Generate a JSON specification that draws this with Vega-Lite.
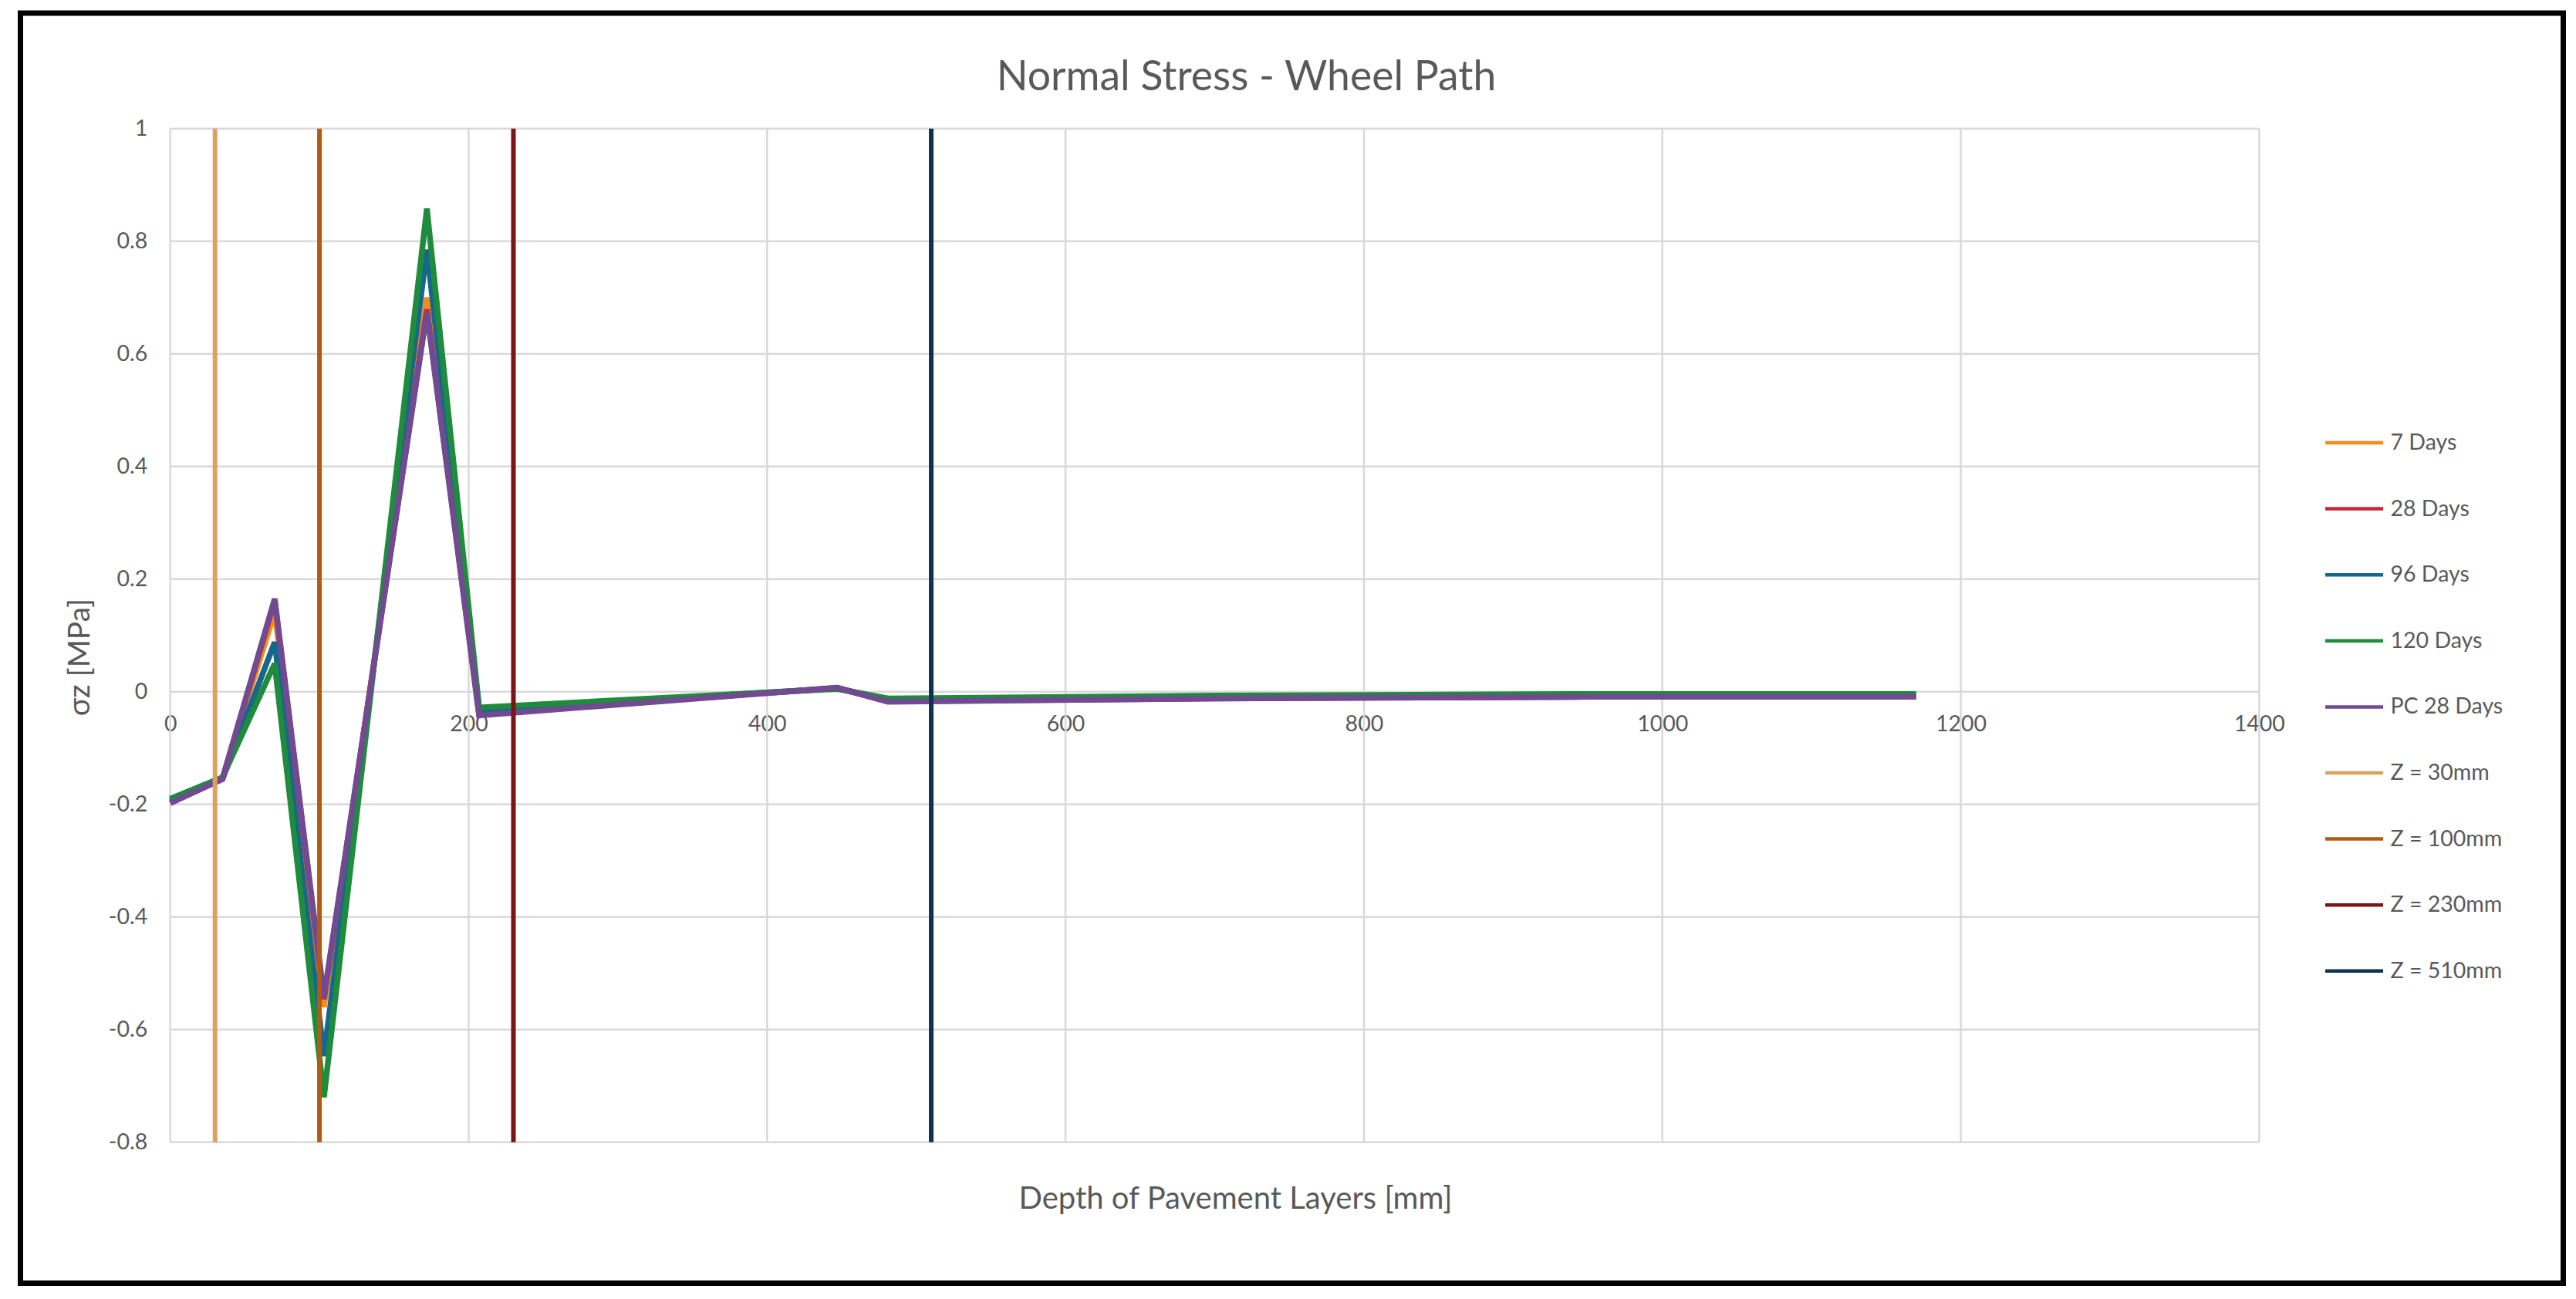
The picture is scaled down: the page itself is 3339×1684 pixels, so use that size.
{
  "$schema": "https://vega.github.io/schema/vega-lite/v6.json",
  "autosize": "none",
  "width": 3296,
  "height": 1646.5,
  "padding": {"left": 26.5, "top": 17, "right": 16.5, "bottom": 20.5},
  "background": "white",
  "title": {
    "text": "Normal Stress - Wheel Path",
    "font": "Lato",
    "fontSize": 53.5,
    "fontWeight": "normal",
    "color": "#595959",
    "anchor": "middle",
    "frame": "group",
    "baseline": "alphabetic",
    "offset": -153,
    "dx": -59
  },
  "datasets": {
    "stress": [
      {"series": "7 Days", "depth": 0, "stress": -0.195},
      {"series": "7 Days", "depth": 35, "stress": -0.155},
      {"series": "7 Days", "depth": 70, "stress": 0.142},
      {"series": "7 Days", "depth": 103, "stress": -0.56},
      {"series": "7 Days", "depth": 172, "stress": 0.7},
      {"series": "7 Days", "depth": 207, "stress": -0.035},
      {"series": "7 Days", "depth": 447, "stress": 0.006},
      {"series": "7 Days", "depth": 481, "stress": -0.016},
      {"series": "7 Days", "depth": 700, "stress": -0.011},
      {"series": "7 Days", "depth": 950, "stress": -0.008},
      {"series": "7 Days", "depth": 1170, "stress": -0.008},
      {"series": "28 Days", "depth": 0, "stress": -0.197},
      {"series": "28 Days", "depth": 35, "stress": -0.155},
      {"series": "28 Days", "depth": 70, "stress": 0.162},
      {"series": "28 Days", "depth": 103, "stress": -0.546},
      {"series": "28 Days", "depth": 172, "stress": 0.679},
      {"series": "28 Days", "depth": 207, "stress": -0.04},
      {"series": "28 Days", "depth": 447, "stress": 0.007},
      {"series": "28 Days", "depth": 481, "stress": -0.017},
      {"series": "28 Days", "depth": 700, "stress": -0.012},
      {"series": "28 Days", "depth": 950, "stress": -0.009},
      {"series": "28 Days", "depth": 1170, "stress": -0.009},
      {"series": "96 Days", "depth": 0, "stress": -0.193},
      {"series": "96 Days", "depth": 35, "stress": -0.155},
      {"series": "96 Days", "depth": 70, "stress": 0.088},
      {"series": "96 Days", "depth": 103, "stress": -0.647},
      {"series": "96 Days", "depth": 172, "stress": 0.785},
      {"series": "96 Days", "depth": 207, "stress": -0.032},
      {"series": "96 Days", "depth": 447, "stress": 0.006},
      {"series": "96 Days", "depth": 481, "stress": -0.014},
      {"series": "96 Days", "depth": 700, "stress": -0.009},
      {"series": "96 Days", "depth": 950, "stress": -0.006},
      {"series": "96 Days", "depth": 1170, "stress": -0.006},
      {"series": "120 Days", "depth": 0, "stress": -0.19},
      {"series": "120 Days", "depth": 35, "stress": -0.152},
      {"series": "120 Days", "depth": 70, "stress": 0.05},
      {"series": "120 Days", "depth": 103, "stress": -0.72},
      {"series": "120 Days", "depth": 172, "stress": 0.858},
      {"series": "120 Days", "depth": 207, "stress": -0.028},
      {"series": "120 Days", "depth": 447, "stress": 0.005},
      {"series": "120 Days", "depth": 481, "stress": -0.012},
      {"series": "120 Days", "depth": 700, "stress": -0.007},
      {"series": "120 Days", "depth": 950, "stress": -0.004},
      {"series": "120 Days", "depth": 1170, "stress": -0.004},
      {"series": "PC 28 Days", "depth": 0, "stress": -0.198},
      {"series": "PC 28 Days", "depth": 35, "stress": -0.155},
      {"series": "PC 28 Days", "depth": 70, "stress": 0.165},
      {"series": "PC 28 Days", "depth": 103, "stress": -0.543},
      {"series": "PC 28 Days", "depth": 172, "stress": 0.675},
      {"series": "PC 28 Days", "depth": 207, "stress": -0.042},
      {"series": "PC 28 Days", "depth": 447, "stress": 0.007},
      {"series": "PC 28 Days", "depth": 481, "stress": -0.018},
      {"series": "PC 28 Days", "depth": 700, "stress": -0.012},
      {"series": "PC 28 Days", "depth": 950, "stress": -0.009},
      {"series": "PC 28 Days", "depth": 1170, "stress": -0.009}
    ],
    "zlines": [
      {"series": "Z = 30mm", "z": 30},
      {"series": "Z = 100mm", "z": 100},
      {"series": "Z = 230mm", "z": 230},
      {"series": "Z = 510mm", "z": 510}
    ],
    "hgrid": [
      {"v": -0.8}, {"v": -0.6}, {"v": -0.4}, {"v": -0.2}, {"v": 0},
      {"v": 0.2}, {"v": 0.4}, {"v": 0.6}, {"v": 0.8}, {"v": 1}
    ],
    "vgrid": [
      {"v": 0}, {"v": 200}, {"v": 400}, {"v": 600},
      {"v": 800}, {"v": 1000}, {"v": 1200}, {"v": 1400}
    ]
  },
  "layer": [
    {
      "data": {"name": "hgrid"},
      "mark": {"type": "rule", "color": "#d9d9d9", "strokeWidth": 2.5},
      "encoding": {
        "y": {"field": "v", "type": "quantitative"},
        "x": {"datum": 0},
        "x2": {"datum": 1400}
      }
    },
    {
      "data": {"name": "vgrid"},
      "mark": {"type": "rule", "color": "#d9d9d9", "strokeWidth": 2.5},
      "encoding": {
        "x": {"field": "v", "type": "quantitative"},
        "y": {"datum": -0.8},
        "y2": {"datum": 1}
      }
    },
    {
      "data": {"name": "stress"},
      "mark": {"type": "line", "strokeWidth": 7.5, "strokeJoin": "miter", "strokeMiterLimit": 3},
      "encoding": {
        "x": {
          "field": "depth",
          "type": "quantitative",
          "scale": {"domain": [-100.4, 1603.8], "nice": false, "zero": false},
          "axis": {
            "title": "Depth of Pavement Layers [mm]",
            "values": [0, 200, 400, 600, 800, 1000, 1200, 1400],
            "format": "d",
            "offset": -766.8,
            "domain": false,
            "ticks": false,
            "tickSize": 0,
            "grid": false,
            "labelPadding": 28,
            "labelFont": "Lato",
            "labelFontSize": 28.5,
            "labelColor": "#595959",
            "titleFont": "Lato",
            "titleFontSize": 40,
            "titleFontWeight": "normal",
            "titleColor": "#595959",
            "titleX": 1574.5,
            "titleY": 670,
            "titleAlign": "center",
            "titleBaseline": "alphabetic"
          }
        },
        "y": {
          "field": "stress",
          "type": "quantitative",
          "scale": {"domain": [-1.0504, 1.2051], "nice": false, "zero": false},
          "axis": {
            "title": "σz [MPa]",
            "values": [-0.8, -0.6, -0.4, -0.2, 0, 0.2, 0.4, 0.6, 0.8, 1],
            "labelExpr": "'' + datum.value",
            "offset": -194.2,
            "domain": false,
            "ticks": false,
            "tickSize": 0,
            "grid": false,
            "labelPadding": 30,
            "labelFont": "Lato",
            "labelFontSize": 28.5,
            "labelColor": "#595959",
            "titleFont": "Lato",
            "titleFontSize": 39,
            "titleFontWeight": "normal",
            "titleColor": "#595959",
            "titleX": -117.7,
            "titleY": 834.7,
            "titleAngle": -90,
            "titleAlign": "center",
            "titleBaseline": "middle"
          }
        },
        "color": {
          "field": "series",
          "type": "nominal",
          "scale": {
            "domain": ["7 Days", "28 Days", "96 Days", "120 Days", "PC 28 Days", "Z = 30mm", "Z = 100mm", "Z = 230mm", "Z = 510mm"],
            "range": ["#f98a1c", "#c8283c", "#15678c", "#1e8c3c", "#714a91", "#dda15e", "#b25a10", "#7b1414", "#0e3350"]
          },
          "legend": {
            "title": null,
            "orient": "none",
            "legendX": 2985,
            "legendY": 517,
            "padding": 0,
            "symbolType": "stroke",
            "symbolSize": 5625,
            "symbolStrokeWidth": 4.5,
            "rowPadding": 30.6,
            "labelOffset": 7,
            "labelFont": "Lato",
            "labelFontSize": 28.5,
            "labelColor": "#595959"
          }
        }
      }
    },
    {
      "data": {"name": "zlines"},
      "mark": {"type": "rule", "strokeWidth": 6},
      "encoding": {
        "x": {"field": "z", "type": "quantitative"},
        "y": {"datum": -0.8},
        "y2": {"datum": 1},
        "color": {
          "field": "series",
          "type": "nominal",
          "scale": {
            "domain": ["7 Days", "28 Days", "96 Days", "120 Days", "PC 28 Days", "Z = 30mm", "Z = 100mm", "Z = 230mm", "Z = 510mm"],
            "range": ["#f98a1c", "#c8283c", "#15678c", "#1e8c3c", "#714a91", "#dda15e", "#b25a10", "#7b1414", "#0e3350"]
          },
          "legend": {
            "title": null,
            "orient": "none",
            "legendX": 2985,
            "legendY": 517,
            "padding": 0,
            "symbolType": "stroke",
            "symbolSize": 5625,
            "symbolStrokeWidth": 4.5,
            "rowPadding": 30.6,
            "labelOffset": 7,
            "labelFont": "Lato",
            "labelFontSize": 28.5,
            "labelColor": "#595959"
          }
        }
      }
    }
  ],
  "config": {
    "view": {"stroke": "black", "strokeWidth": 7, "fill": "white"}
  }
}
